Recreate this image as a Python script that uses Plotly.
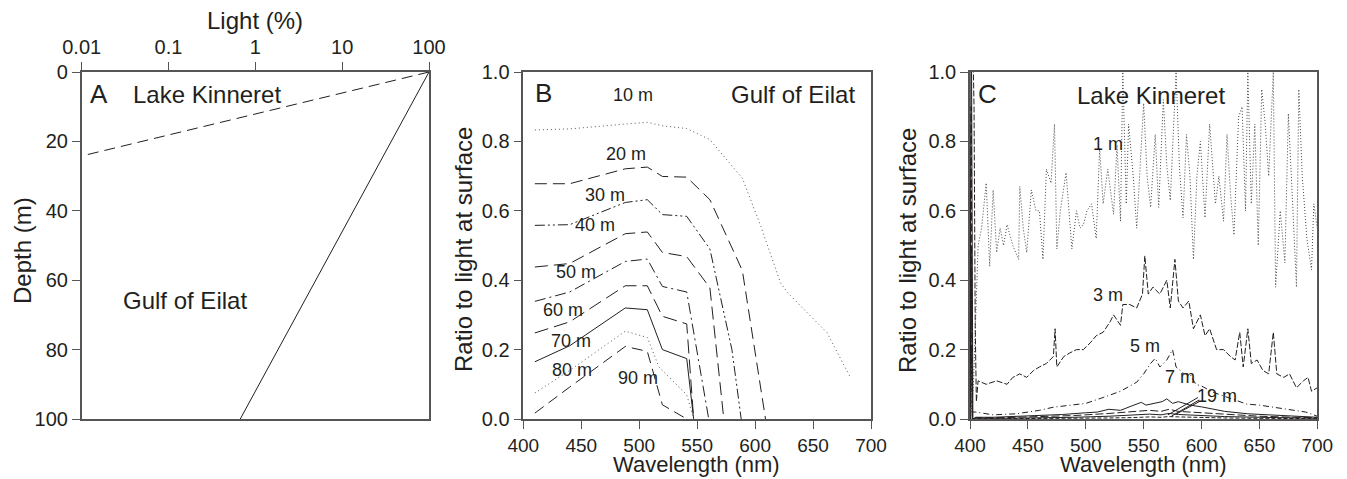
import plotly.graph_objects as go

FONT = "Liberation Sans, Arial, Helvetica, sans-serif"
INK = "#231f20"
AX = "#555555"
W, H = 1347, 479

# ---------------- Panel A data ----------------
a_kin_light = [100, 0.01]
a_kin_depth = [0, 24.2]
a_gulf_light = [100, 0.67]
a_gulf_depth = [0, 100]
a_ticks = [0.01, 0.1, 1, 10, 100]
a_ticktext = ["0.01", "0.1", "1", "10", "100"]

# ---------------- Panel B data (Gulf of Eilat) ----------------
b_depths = ["10 m", "20 m", "30 m", "40 m", "50 m", "60 m", "70 m", "80 m", "90 m"]
b10_x = [410, 440, 488, 507, 520, 541, 561, 589, 605, 622, 628, 645, 662, 682]
b10_y = [0.833, 0.836, 0.850, 0.855, 0.845, 0.837, 0.805, 0.694, 0.555, 0.392, 0.364, 0.305, 0.249, 0.121]
b20_x = [410, 440, 488, 507, 520, 541, 561, 589, 609]
b20_y = [0.678, 0.678, 0.721, 0.726, 0.699, 0.697, 0.632, 0.428, 0.0]
b30_x = [410, 440, 488, 507, 520, 541, 561, 580, 588]
b30_y = [0.558, 0.560, 0.624, 0.632, 0.589, 0.584, 0.490, 0.200, 0.0]
b40_x = [410, 440, 488, 507, 520, 541, 561, 573]
b40_y = [0.438, 0.448, 0.534, 0.539, 0.480, 0.468, 0.378, 0.0]
b50_x = [410, 440, 488, 507, 520, 541, 560]
b50_y = [0.339, 0.366, 0.454, 0.461, 0.382, 0.366, 0.0]
b60_x = [410, 440, 488, 507, 520, 541, 547]
b60_y = [0.248, 0.280, 0.384, 0.384, 0.296, 0.274, 0.0]
b70_x = [410, 440, 488, 507, 520, 541, 547]
b70_y = [0.165, 0.211, 0.320, 0.315, 0.200, 0.174, 0.0]
b80_x = [410, 440, 488, 507, 517, 541, 547]
b80_y = [0.075, 0.140, 0.253, 0.235, 0.150, 0.070, 0.0]
b90_x = [410, 440, 488, 507, 520, 541]
b90_y = [0.017, 0.092, 0.209, 0.195, 0.041, 0.0]

# ---------------- Panel C data (Lake Kinneret) ----------------
c1_x = [401, 403, 405, 407, 410, 414, 417, 420, 423, 426,
        429, 432, 437, 442, 443, 446, 449, 453, 457, 460,
        463, 466, 470, 473, 475, 478, 483, 488, 492, 495,
        498, 501, 505, 509, 512, 515, 519, 524, 527, 530,
        532, 535, 537, 541, 544, 547, 550, 553, 556, 560,
        563, 567, 570, 573, 576, 578, 581, 584, 587, 590,
        593, 596, 599, 603, 607, 612, 615, 619, 622, 625,
        628, 632, 635, 638, 640, 643, 646, 649, 652, 655,
        658, 662, 664, 668, 672, 675, 679, 682, 684, 687,
        691, 695, 697, 700]
c1_y = [0.02, 0.10, 0.30, 0.50, 0.55, 0.68, 0.44, 0.66, 0.48, 0.55,
        0.50, 0.56, 0.50, 0.46, 0.67, 0.55, 0.48, 0.66, 0.60, 0.60,
        0.46, 0.72, 0.68, 0.85, 0.49, 0.60, 0.71, 0.49, 0.60, 0.55,
        0.56, 0.60, 0.62, 0.52, 0.78, 0.62, 0.72, 0.59, 0.79, 0.57,
        1.00, 0.62, 0.85, 0.70, 0.55, 0.75, 0.91, 0.70, 0.61, 0.82,
        0.61, 0.92, 0.73, 0.63, 0.85, 1.00, 0.72, 0.58, 0.82, 0.70,
        0.46, 0.70, 0.80, 0.58, 0.85, 0.62, 0.70, 0.57, 0.82, 0.65,
        0.53, 0.87, 0.90, 0.60, 1.00, 0.62, 0.85, 0.50, 0.95, 0.85,
        0.70, 1.00, 0.38, 0.60, 0.45, 0.88, 0.60, 0.38, 0.95, 0.70,
        0.52, 0.43, 0.62, 0.55]
c3_x = [400, 403.5, 404.5, 405.5, 407, 414, 423, 432, 437, 443,
        449, 455, 460, 466, 472, 473.5, 475, 481, 486, 492,
        498, 504, 509, 515, 521, 524, 530, 532, 538, 544,
        549, 551, 554, 558, 564, 570, 573, 576, 577, 580,
        584, 589, 593, 599, 603, 607, 613, 619, 625, 629,
        633, 636, 640, 643, 648, 653, 658, 662, 665, 671,
        676, 682, 688, 692, 695, 700]
c3_y = [1.5, 0.9, 0.27, 0.05, 0.11, 0.10, 0.11, 0.10, 0.12, 0.13,
        0.12, 0.14, 0.15, 0.16, 0.18, 0.26, 0.15, 0.18, 0.19, 0.20,
        0.20, 0.22, 0.24, 0.25, 0.28, 0.30, 0.27, 0.33, 0.33, 0.32,
        0.36, 0.47, 0.36, 0.38, 0.36, 0.40, 0.32, 0.42, 0.46, 0.34,
        0.32, 0.34, 0.26, 0.30, 0.24, 0.26, 0.20, 0.20, 0.18, 0.17,
        0.25, 0.15, 0.26, 0.16, 0.17, 0.14, 0.13, 0.25, 0.13, 0.12,
        0.13, 0.09, 0.11, 0.12, 0.08, 0.09]
c5_x = [400, 402, 405, 420, 440, 460, 472, 490, 500, 515, 530, 544, 550, 556, 560, 564,
        570, 575, 578, 585, 590, 595, 600, 610, 620, 630, 639, 650, 660, 670, 682, 690, 700]
c5_y = [0.55, 0.02, 0.02, 0.012, 0.015, 0.025, 0.034, 0.040, 0.045, 0.062, 0.080, 0.106, 0.13, 0.16, 0.175, 0.15,
        0.17, 0.20, 0.15, 0.13, 0.13, 0.10, 0.095, 0.077, 0.065, 0.055, 0.043, 0.040, 0.035, 0.030, 0.024, 0.020, 0.008]
c7_x = [400, 401, 402.5, 405, 420, 440, 460, 480, 500, 510, 520, 530, 540, 548, 552, 560,
        566, 570, 575, 580, 590, 600, 610, 620, 640, 660, 680, 700]
c7_y = [0.0, 1.3, 0.0, 0.005, 0.005, 0.007, 0.010, 0.013, 0.018, 0.020, 0.028, 0.025, 0.038, 0.048, 0.040, 0.045,
        0.050, 0.058, 0.045, 0.050, 0.040, 0.035, 0.028, 0.022, 0.015, 0.012, 0.008, 0.005]
cdeep_x = [400, 401, 402, 405, 430, 460, 490, 520, 540, 555, 565, 572, 580, 590, 600, 620, 650, 680, 700]
c9_y = [0.0, 0.9, 0.0, 0.004, 0.004, 0.006, 0.010, 0.016, 0.020, 0.025, 0.022, 0.028, 0.022, 0.020, 0.016, 0.012, 0.008, 0.005, 0.004]
c13_y = [0.0, 0.5, 0.0, 0.002, 0.002, 0.003, 0.005, 0.008, 0.011, 0.014, 0.012, 0.016, 0.013, 0.011, 0.009, 0.007, 0.005, 0.003, 0.002]
c19_y = [0.0, 0.2, 0.0, 0.001, 0.001, 0.001, 0.002, 0.003, 0.004, 0.006, 0.005, 0.007, 0.006, 0.005, 0.004, 0.003, 0.002, 0.001, 0.001]

fig = go.Figure()

def line(x, y, dash, xa, ya, width=1.0, color=INK):
    fig.add_trace(go.Scatter(x=x, y=y, mode="lines", xaxis=xa, yaxis=ya,
                             line=dict(color=color, width=width, dash=dash),
                             showlegend=False, hoverinfo="skip"))

# Panel A
line(a_kin_light, a_kin_depth, "11px,6px", "x", "y")
line(a_gulf_light, a_gulf_depth, "solid", "x", "y")

# Panel B
line(b10_x, b10_y, "1px,3px", "x2", "y2", color="#555")
line(b20_x, b20_y, "12px,6px", "x2", "y2")
line(b30_x, b30_y, "10px,3px,2px,3px,2px,3px", "x2", "y2")
line(b40_x, b40_y, "13px,6px", "x2", "y2")
line(b50_x, b50_y, "11px,4px,2px,4px", "x2", "y2")
line(b60_x, b60_y, "14px,6px", "x2", "y2")
line(b70_x, b70_y, "solid", "x2", "y2")
line(b80_x, b80_y, "1px,3px", "x2", "y2", color="#555")
line(b90_x, b90_y, "11px,6px", "x2", "y2")

# Panel C
line(c1_x, c1_y, "1px,2px", "x3", "y3", color="#444")
line(c3_x, c3_y, "6px,2px", "x3", "y3")
line(c5_x, c5_y, "6px,3px,1px,3px", "x3", "y3")
line(c7_x, c7_y, "solid", "x3", "y3")
line(cdeep_x, c9_y, "8px,3px", "x3", "y3")
line(cdeep_x, c13_y, "solid", "x3", "y3")
line(cdeep_x, c19_y, "4px,2px", "x3", "y3")

axis_common = dict(showgrid=False, zeroline=False, showline=True, mirror=True,
                   linecolor=AX, linewidth=1.5, ticks="outside", ticklen=8,
                   tickwidth=1.2, tickcolor=AX, automargin=False,
                   tickfont=dict(family=FONT, size=20, color=INK))
xtickfont = dict(family=FONT, size=19, color=INK)

yd = [1 - 419 / H, 1 - 72 / H]
fig.update_layout(
    width=W, height=H, margin=dict(l=0, r=0, t=0, b=0, autoexpand=False),
    paper_bgcolor="white", plot_bgcolor="white",
    xaxis=dict(**axis_common, type="log", range=[-2, 2], side="top", anchor="y",
               domain=[81.7 / W, 429 / W], tickvals=a_ticks, ticktext=a_ticktext),
    yaxis=dict(**axis_common, range=[100, 0], dtick=20, anchor="x", domain=yd),
    xaxis2=dict(**axis_common, range=[400, 700], dtick=50, anchor="y2",
                domain=[523.3 / W, 871 / W]),
    yaxis2=dict(**axis_common, range=[0, 1], dtick=0.2, tickformat=".1f", anchor="x2", domain=yd),
    xaxis3=dict(**axis_common, range=[400, 700], dtick=50, anchor="y3",
                domain=[970 / W, 1317.3 / W]),
    yaxis3=dict(**axis_common, range=[0, 1], dtick=0.2, tickformat=".1f", anchor="x3", domain=yd),
)
fig.update_layout(xaxis2_tickfont=xtickfont, xaxis3_tickfont=xtickfont)

def txt(x, y, s, xr, yr, size=24, xanchor="center", angle=0):
    fig.add_annotation(x=x, y=y, text=s, xref=xr, yref=yr, showarrow=False,
                       xanchor=xanchor, yanchor="middle", textangle=angle,
                       font=dict(family=FONT, size=size, color=INK))

# axis titles
txt(255 / W, 1 - 20 / H, "Light (%)", "paper", "paper")
txt(22 / W, 1 - 251 / H, "Depth (m)", "paper", "paper", angle=-90)
txt(463 / W, 1 - 250 / H, "Ratio to light at surface", "paper", "paper", angle=-90)
txt(697 / W, 1 - 464 / H, "Wavelength (nm)", "paper", "paper", size=22)
txt(907 / W, 1 - 250 / H, "Ratio to light at surface", "paper", "paper", angle=-90)
txt(1143.5 / W, 1 - 464 / H, "Wavelength (nm)", "paper", "paper", size=22)

# Panel A labels (log axis: x in log10 units)
txt(-1.80, 6.2, "A", "x", "y", size=26)
txt(-0.56, 6.5, "Lake Kinneret", "x", "y")
txt(-0.81, 65.8, "Gulf of Eilat", "x", "y")

# Panel B labels
txt(417, 0.94, "B", "x2", "y2", size=26)
txt(633, 0.935, "Gulf of Eilat", "x2", "y2")
b_label_pos = [(495, 0.935), (488.7, 0.765), (470.6, 0.646), (462, 0.558), (445.5, 0.424),
               (434.3, 0.315), (441.2, 0.226), (442, 0.142), (499, 0.119)]
for (lx, ly), s in zip(b_label_pos, b_depths):
    txt(lx, ly, s, "x2", "y2", size=18)

# Panel C labels
txt(415.5, 0.938, "C", "x3", "y3", size=26)
txt(556, 0.932, "Lake Kinneret", "x3", "y3")
c_labels = ["1 m", "3 m", "5 m", "7 m", "19 m"]
c_label_pos = [(519.5, 0.793), (519, 0.356), (551.2, 0.211), (581.4, 0.12), (613, 0.067)]
for (lx, ly), s in zip(c_label_pos, c_labels):
    txt(lx, ly, s, "x3", "y3", size=18)

# leader lines from "19 m"
for (x0, y0, x1, y1) in [(597, 0.062, 571, 0.012), (598, 0.055, 574, 0.008), (598, 0.05, 578, 0.014)]:
    fig.add_shape(type="line", x0=x0, y0=y0, x1=x1, y1=y1, xref="x3", yref="y3",
                  line=dict(color=INK, width=1))

fig.write_html("out.html")
